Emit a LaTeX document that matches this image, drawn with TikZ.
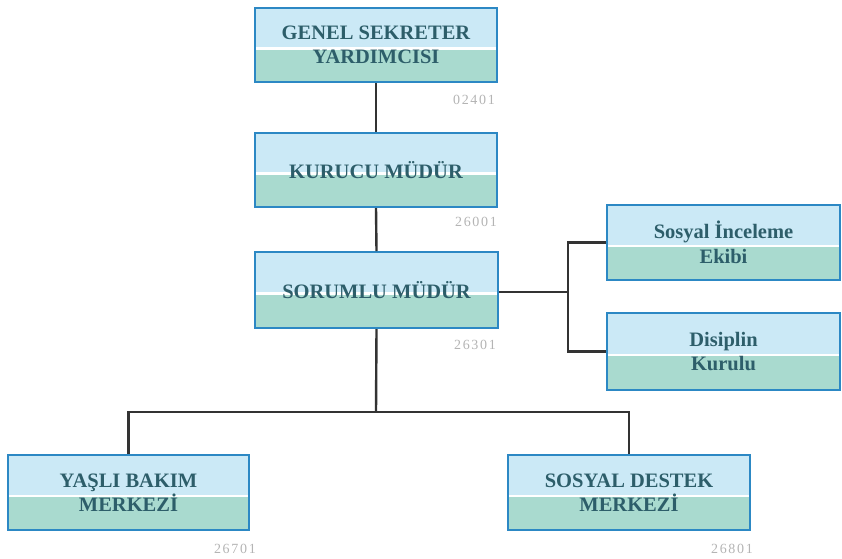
\documentclass[tikz,border=0pt]{standalone}
\usepackage{fontspec}
\setmainfont{Liberation Serif}
\usetikzlibrary{calc}
\definecolor{topc}{HTML}{CBE9F6}
\definecolor{botc}{HTML}{A9DACF}
\definecolor{bordc}{HTML}{2C88C4}
\definecolor{txtc}{HTML}{2D5E6A}
\definecolor{codec}{HTML}{B4B4B4}
\definecolor{linec}{HTML}{333333}
\tikzset{
  orgbox/.style={
    draw=bordc, line width=2pt, minimum width=242pt, minimum height=74pt,
    inner sep=0pt, align=center, text=txtc,
    font=\fontsize{20.5}{24.5}\selectfont\bfseries,
    path picture={
      \fill[topc] (path picture bounding box.north west) rectangle ($(path picture bounding box.east)+(0,-2pt)$);
      \fill[botc] ($(path picture bounding box.west)+(0,-4.5pt)$) rectangle (path picture bounding box.south east);
      \fill[white] ($(path picture bounding box.west)+(0,-2pt)$) rectangle ($(path picture bounding box.east)+(0,-4.5pt)$);
    }},
  codetxt/.style={text=codec, font=\fontsize{14}{16}\selectfont\addfontfeature{LetterSpace=12}, anchor=east, inner sep=0pt},
  conn/.style={draw=linec, line width=2.4pt}
}
\begin{document}
\begin{tikzpicture}[x=1pt,y=-1pt]
\useasboundingbox (0,0) rectangle (842,558);
\node[orgbox] (b1) at (376,45) {GENEL SEKRETER\\YARDIMCISI};
\node[orgbox] (b2) at (376,170) {KURUCU MÜDÜR};
\node[orgbox, minimum width=243pt, minimum height=76pt] (b3) at (376.5,290) {SORUMLU MÜDÜR};
\node[orgbox, minimum width=233pt, minimum height=75pt] (r1) at (723.5,242.5) {Sosyal İnceleme\\Ekibi};
\node[orgbox, minimum width=233pt, minimum height=77pt] (r2) at (723.5,351.5) {Disiplin\\Kurulu};
\node[orgbox, minimum width=241pt, minimum height=75pt] (bl) at (128.5,492.5) {YAŞLI BAKIM\\MERKEZİ};
\node[orgbox, minimum width=242pt, minimum height=75pt] (br) at (629,492.5) {SOSYAL DESTEK\\MERKEZİ};
\node[codetxt] (c1) at (495,100) {02401};
\node[codetxt] (c2) at (497,222) {26001};
\node[codetxt] (c3) at (496,345) {26301};
\node[codetxt] (c4) at (256,549) {26701};
\node[codetxt] (c5) at (753,549) {26801};
\coordinate (j1) at (376,412);
\coordinate (j2) at (568,292);
\draw[conn] (b1.south) -- (b2.north);
\draw[conn] (b2.south) -- (b3.north);
\draw[conn] (b3.south) -- (j1);
\draw[conn] (j1) -| (bl.north);
\draw[conn] (j1) -| (br.north);
\draw[conn] (b3.east |- j2) -- (j2);
\draw[conn] (j2) |- (r1.west);
\draw[conn] (j2) |- (r2.west);
\end{tikzpicture}
\end{document}
